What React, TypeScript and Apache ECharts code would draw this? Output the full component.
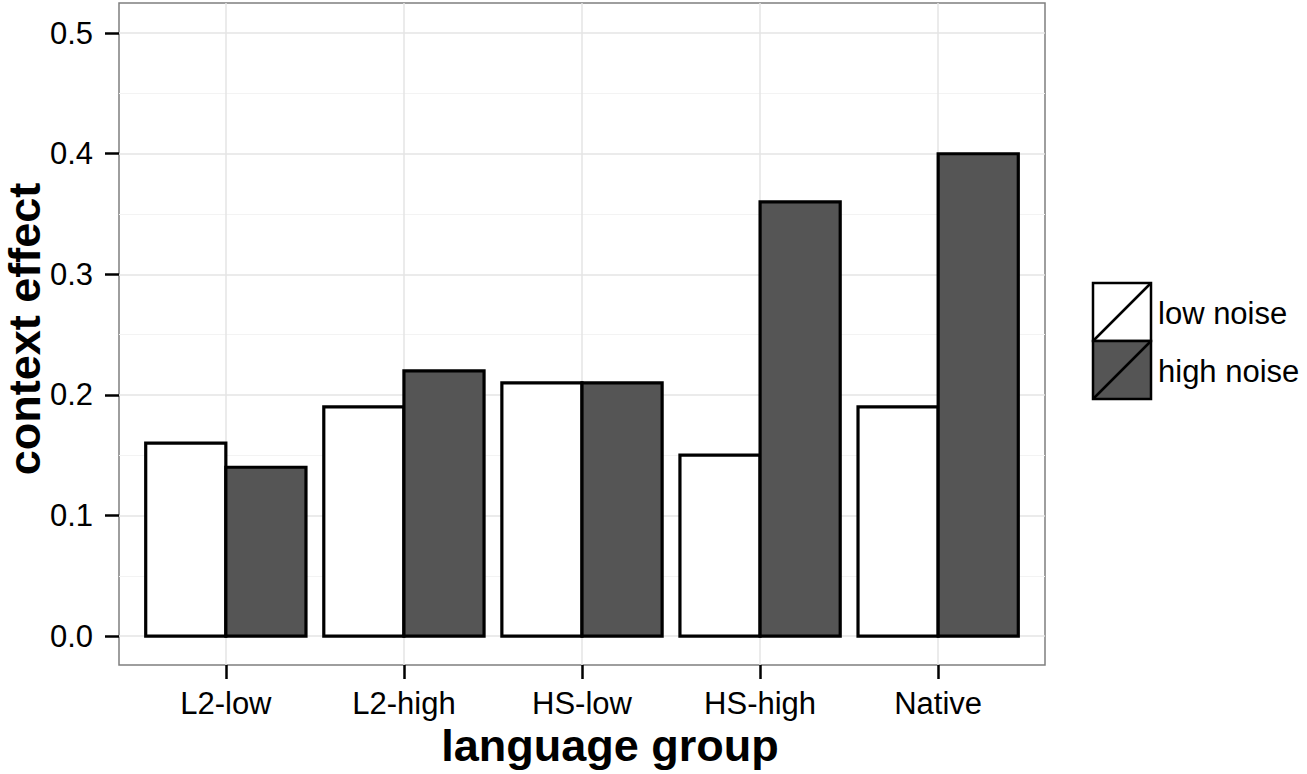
import React, { useEffect, useRef } from "react";
import * as echarts from "echarts";

const categories = ["L2-low", "L2-high", "HS-low", "HS-high", "Native"];
const lowNoise = [0.16, 0.19, 0.21, 0.15, 0.19];
const highNoise = [0.14, 0.22, 0.21, 0.36, 0.4];
const yMajorTicks = [0, 0.1, 0.2, 0.3, 0.4, 0.5];
const yMinorTicks = [0.05, 0.15, 0.25, 0.35, 0.45];
const xTicks = [1, 2, 3, 4, 5];
const seriesNames = ["low noise", "high noise"];

const FONT = "'Liberation Sans', Arial, Helvetica, sans-serif";
const DARK = "#555555";
const BAR_W = 0.45;

function makeRender(side: "left" | "right", fill: string) {
  return (params: any, api: any) => {
    const x = api.value(0);
    const v = api.value(1);
    const x0 = side === "left" ? x - BAR_W : x;
    const x1 = side === "left" ? x : x + BAR_W;
    const p0 = api.coord([x0, 0]);
    const p1 = api.coord([x1, v]);
    return {
      type: "rect",
      shape: { x: p0[0], y: p1[1], width: p1[0] - p0[0], height: p0[1] - p1[1] },
      style: { fill, stroke: "#000", lineWidth: 3.2 },
    };
  };
}

export default function App() {
  const ref = useRef<HTMLDivElement>(null);
  useEffect(() => {
    if (!ref.current) return;
    const chart = echarts.init(ref.current, undefined, { renderer: "svg" });
    const tickStyle = { color: "#000", width: 2.5 };
    const option: any = {
      animation: false,
      backgroundColor: "#fff",
      grid: {
        left: 119,
        right: 262,
        top: 3,
        bottom: 109,
        show: true,
        borderColor: "#7f7f7f",
        borderWidth: 1.5,
        backgroundColor: "transparent",
      },
      xAxis: {
        type: "value",
        min: 0.4,
        max: 5.6,
        axisLine: { show: false, onZero: false },
        axisTick: { show: true, length: 14, lineStyle: tickStyle, customValues: xTicks },
        axisLabel: {
          show: true,
          customValues: xTicks,
          margin: 24,
          color: "#000",
          fontSize: 31,
          lineHeight: 28,
          fontFamily: FONT,
          formatter: (v: number) => categories[Math.round(v) - 1] ?? "",
        },
        splitLine: { show: true, lineStyle: { color: "#e5e5e5", width: 1.5 } },
      },
      yAxis: [
        {
          type: "value",
          min: -0.024,
          max: 0.525,
          axisLine: { show: false },
          axisTick: { show: true, length: 14, lineStyle: tickStyle, customValues: yMajorTicks },
          axisLabel: {
            show: true,
            customValues: yMajorTicks,
            margin: 26,
            color: "#000",
            fontSize: 31,
            fontFamily: FONT,
            formatter: (v: number) => v.toFixed(1),
          },
          splitLine: { show: true, lineStyle: { color: "#e5e5e5", width: 1.5 } },
        },
        {
          type: "value",
          min: -0.024,
          max: 0.525,
          position: "right",
          axisLine: { show: false },
          axisTick: { show: false, customValues: yMinorTicks },
          axisLabel: { show: false, customValues: yMinorTicks },
          splitLine: { show: true, lineStyle: { color: "#f3f3f3", width: 1.2 } },
        },
      ],
      series: [
        {
          name: seriesNames[0],
          type: "custom",
          renderItem: makeRender("left", "#ffffff"),
          encode: { x: 0, y: 1 },
          data: lowNoise.map((v, i) => [xTicks[i], v]),
          z: 3,
        },
        {
          name: seriesNames[1],
          type: "custom",
          renderItem: makeRender("right", DARK),
          encode: { x: 0, y: 1 },
          data: highNoise.map((v, i) => [xTicks[i], v]),
          z: 4,
        },
      ],
      graphic: [
        {
          type: "text",
          x: 610,
          y: 745,
          style: {
            text: "language group",
            fontSize: 45,
            lineHeight: 40,
            fontWeight: "bold",
            fontFamily: FONT,
            fill: "#000",
            textAlign: "center",
            textVerticalAlign: "middle",
          },
        },
        {
          type: "text",
          x: 24,
          y: 329,
          rotation: Math.PI / 2,
          style: {
            text: "context effect",
            fontSize: 45,
            lineHeight: 40,
            fontWeight: "bold",
            fontFamily: FONT,
            fill: "#000",
            textAlign: "center",
            textVerticalAlign: "middle",
          },
        },
        {
          type: "group",
          children: [
            {
              type: "rect",
              shape: { x: 1093, y: 283, width: 58, height: 58 },
              style: { fill: "#fff", stroke: "#000", lineWidth: 2.5 },
            },
            {
              type: "line",
              shape: { x1: 1093, y1: 341, x2: 1151, y2: 283 },
              style: { stroke: "#000", lineWidth: 2.5 },
            },
            {
              type: "rect",
              shape: { x: 1093, y: 341, width: 58, height: 58 },
              style: { fill: DARK, stroke: "#000", lineWidth: 2.5 },
            },
            {
              type: "line",
              shape: { x1: 1093, y1: 399, x2: 1151, y2: 341 },
              style: { stroke: "#000", lineWidth: 2.5 },
            },
            {
              type: "text",
              x: 1158,
              y: 313,
              style: {
                text: seriesNames[0],
                fontSize: 31,
                fontFamily: FONT,
                fill: "#000",
                textAlign: "left",
                textVerticalAlign: "middle",
              },
            },
            {
              type: "text",
              x: 1158,
              y: 371,
              style: {
                text: seriesNames[1],
                fontSize: 31,
                fontFamily: FONT,
                fill: "#000",
                textAlign: "left",
                textVerticalAlign: "middle",
              },
            },
          ],
        },
      ],
    };
    chart.setOption(option);
    return () => chart.dispose();
  }, []);
  return (
    <div
      ref={ref}
      style={{ position: "absolute", left: 0, top: 0, width: 1307, height: 774 }}
    />
  );
}
